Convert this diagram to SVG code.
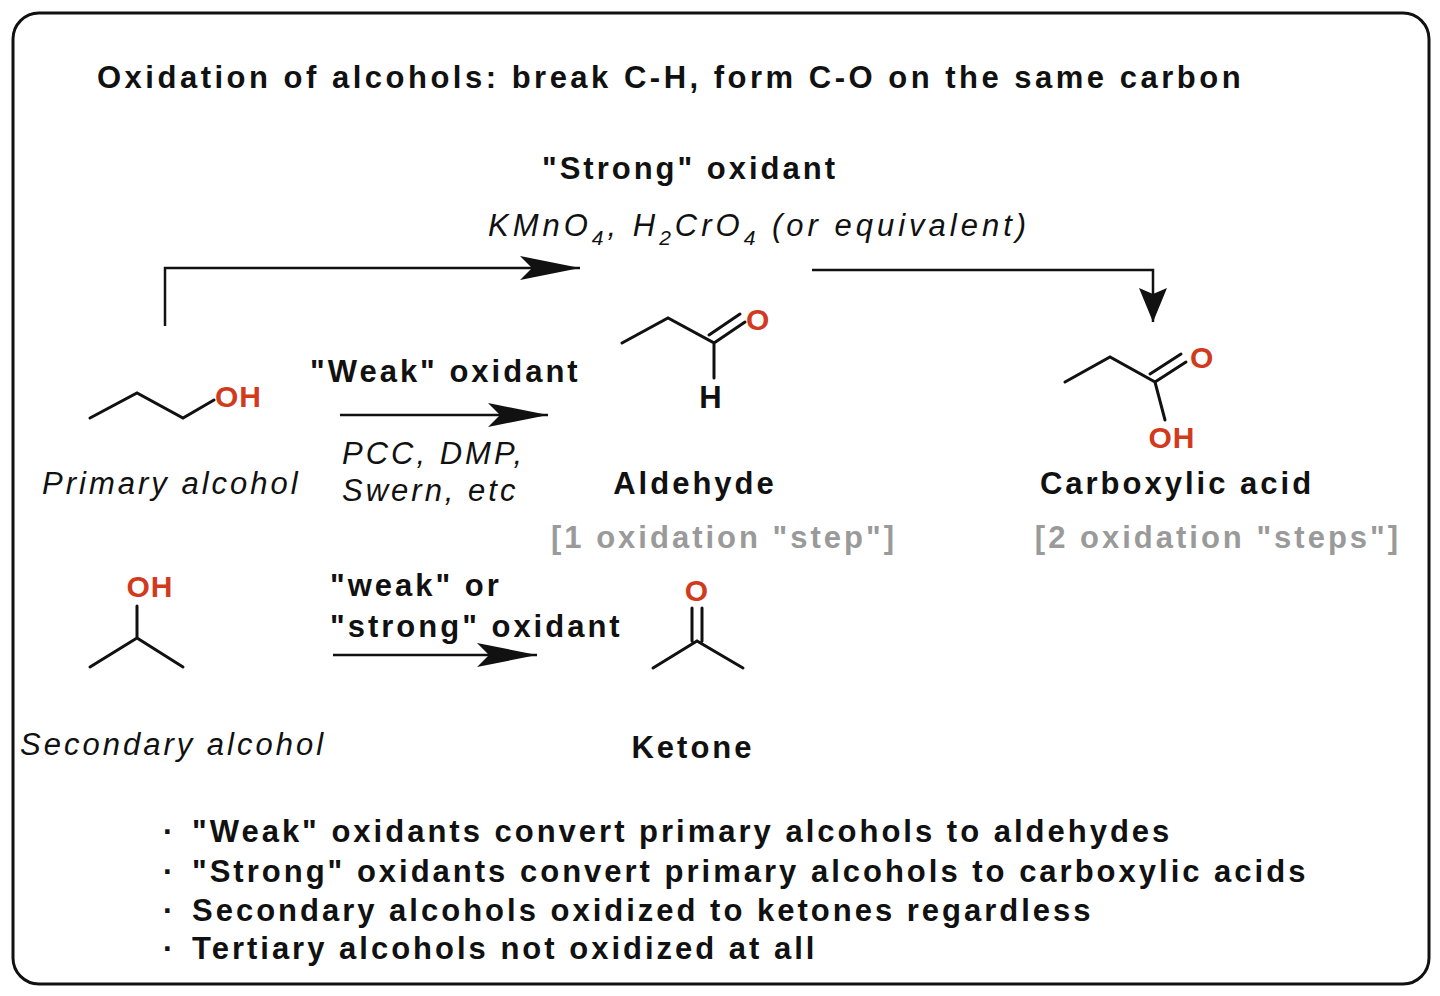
<svg xmlns="http://www.w3.org/2000/svg" width="1440" height="996" viewBox="0 0 1440 996">
<style>
text{font-family:"Liberation Sans",Arial,sans-serif;fill:#111;letter-spacing:3px}
.b{font-weight:bold;font-size:31px}
.i{font-style:italic;font-size:31px}
.g{font-weight:bold;font-size:31px;fill:#9a9a9a}
.r{fill:#d23a1e;font-weight:bold;font-size:30px;letter-spacing:1px}
.bond{stroke:#111;stroke-width:3;fill:none;stroke-linecap:round}
.conn{stroke:#111;stroke-width:2.5;fill:none}
</style>
<defs>
<marker id="ah" markerWidth="60" markerHeight="24" refX="60" refY="12" orient="auto" markerUnits="userSpaceOnUse">
<path d="M0,0 L60,12 L0,24 L12,12 Z" fill="#111"/>
</marker>
<marker id="ahd" markerWidth="34" markerHeight="28" refX="34" refY="14" orient="auto" markerUnits="userSpaceOnUse">
<path d="M0,0 L34,14 L0,28 L6,14 Z" fill="#111"/>
</marker>
</defs>
<rect x="13" y="13" width="1416" height="971" rx="26" fill="#fff" stroke="#111" stroke-width="3"/>
<text class="b" x="97" y="88" style="letter-spacing:3.5px">Oxidation of alcohols: break C-H, form C-O on the same carbon</text>
<g id="connectors">
<path class="conn" d="M165,326 V268 H580" marker-end="url(#ah)"/>
<path class="conn" d="M812,270 H1153 V322" marker-end="url(#ahd)"/>
<path class="conn" d="M340,415 H548" marker-end="url(#ah)"/>
<path class="conn" d="M333,655 H537" marker-end="url(#ah)"/>
</g>
<g id="strong-label">
<text class="b" x="690" y="179" text-anchor="middle">"Strong" oxidant</text>
<text class="i" x="488" y="236" style="letter-spacing:4px">KMnO<tspan font-size="21" dy="9">4</tspan><tspan dy="-9">, H</tspan><tspan font-size="21" dy="9">2</tspan><tspan dy="-9">CrO</tspan><tspan font-size="21" dy="9">4</tspan><tspan dy="-9"> (or equivalent)</tspan></text>
</g>
<g id="primary-alcohol">
<path class="bond" d="M90,418 L137,393 L183,418 L214,400"/>
<text class="r" x="215" y="407">OH</text>
<text class="i" x="42" y="494">Primary alcohol</text>
</g>
<g id="weak-label">
<text class="b" x="310" y="382">"Weak" oxidant</text>
<text class="i" x="342" y="464">PCC, DMP,</text>
<text class="i" x="342" y="501">Swern, etc</text>
</g>
<g id="aldehyde">
<path class="bond" d="M622,343 L668,318 L714,343 L714,378 M714,343 L745,322 M709,335 L740,314"/>
<text class="r" x="746" y="330">O</text>
<text class="b" x="712" y="408" text-anchor="middle" font-size="28">H</text>
<text class="b" x="695" y="494" text-anchor="middle">Aldehyde</text>
<text class="g" x="724" y="548" text-anchor="middle">[1 oxidation "step"]</text>
</g>
<g id="carboxylic-acid">
<path class="bond" d="M1065,382 L1110,357 L1155,382 L1165,420 M1155,382 L1186,362 M1150,374 L1181,354"/>
<text class="r" x="1190" y="368">O</text>
<text class="r" x="1172" y="448" text-anchor="middle">OH</text>
<text class="b" x="1177" y="494" text-anchor="middle">Carboxylic acid</text>
<text class="g" x="1218" y="548" text-anchor="middle">[2 oxidation "steps"]</text>
</g>
<g id="secondary-alcohol">
<path class="bond" d="M90,667 L137,638 L183,667 M137,638 L137,606"/>
<text class="r" x="150" y="597" text-anchor="middle">OH</text>
<text class="i" x="20" y="755">Secondary alcohol</text>
</g>
<g id="weak-strong-label">
<text class="b" x="330" y="596">"weak" or</text>
<text class="b" x="330" y="637">"strong" oxidant</text>
</g>
<g id="ketone">
<path class="bond" d="M653,668 L697,641 L743,668 M692,641 L692,608 M702,641 L702,608"/>
<text class="r" x="697" y="601" text-anchor="middle">O</text>
<text class="b" x="693" y="758" text-anchor="middle">Ketone</text>
</g>
<g id="bullets">
<text class="b" x="163" y="842">·</text><text class="b" x="192" y="842">"Weak" oxidants convert primary alcohols to aldehydes</text>
<text class="b" x="163" y="882">·</text><text class="b" x="192" y="882">"Strong" oxidants convert primary alcohols to carboxylic acids</text>
<text class="b" x="163" y="921">·</text><text class="b" x="192" y="921">Secondary alcohols oxidized to ketones regardless</text>
<text class="b" x="163" y="959">·</text><text class="b" x="192" y="959">Tertiary alcohols not oxidized at all</text>
</g>
</svg>
